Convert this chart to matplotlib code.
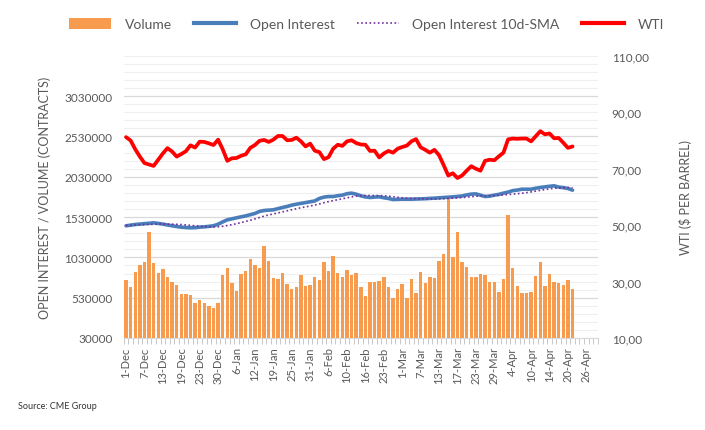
import matplotlib
matplotlib.use("Agg")
import matplotlib.pyplot as plt
from matplotlib.ticker import MultipleLocator, FixedLocator
from matplotlib.patches import Patch
from matplotlib.lines import Line2D

plt.rcParams['font.family'] = ['Lato', 'DejaVu Sans']

# trading days 1-Dec .. 21-Apr (axis runs on to 28-Apr)
tick_labels = ['1-Dec', '7-Dec', '13-Dec', '19-Dec', '23-Dec', '30-Dec', '6-Jan', '12-Jan',
               '19-Jan', '25-Jan', '31-Jan', '6-Feb', '10-Feb', '16-Feb', '23-Feb', '1-Mar',
               '7-Mar', '13-Mar', '17-Mar', '23-Mar', '29-Mar', '4-Apr', '10-Apr', '14-Apr',
               '20-Apr', '26-Apr']
n_slots = 103

volume = [744000, 665000, 843000, 934000, 975000, 1351000, 955000, 831000, 884000, 781000,
          719000, 690000, 578000, 574000, 562000, 463000, 500000, 463000, 421000, 397000,
          463000, 810000, 901000, 707000, 612000, 822000, 860000, 1008000, 934000, 901000,
          1174000, 988000, 769000, 760000, 835000, 694000, 636000, 665000, 814000, 669000,
          682000, 785000, 744000, 975000, 860000, 1046000, 835000, 785000, 872000, 810000,
          835000, 665000, 550000, 727000, 719000, 731000, 781000, 665000, 529000, 636000,
          694000, 529000, 760000, 587000, 847000, 707000, 781000, 769000, 988000, 1066000,
          1752000, 1029000, 1339000, 975000, 913000, 781000, 781000, 822000, 810000, 727000,
          727000, 599000, 756000, 1558000, 897000, 678000, 587000, 587000, 599000, 793000,
          975000, 678000, 822000, 719000, 711000, 690000, 744000, 640000]

open_interest = [1422000, 1430000, 1438000, 1443000, 1449000, 1453000, 1459000, 1452000, 1443000, 1432000,
                 1422000, 1413000, 1405000, 1400000, 1397000, 1399000, 1405000, 1409000, 1415000, 1422000,
                 1442000, 1470000, 1496000, 1508000, 1521000, 1533000, 1545000, 1560000, 1575000, 1600000,
                 1612000, 1616000, 1620000, 1635000, 1649000, 1662000, 1678000, 1690000, 1700000, 1710000,
                 1720000, 1730000, 1761000, 1778000, 1785000, 1785000, 1795000, 1802000, 1820000, 1827000,
                 1814000, 1794000, 1780000, 1773000, 1778000, 1781000, 1770000, 1761000, 1748000, 1750000,
                 1752000, 1752000, 1752000, 1754000, 1756000, 1758000, 1762000, 1765000, 1769000, 1773000,
                 1777000, 1781000, 1786000, 1792000, 1805000, 1815000, 1818000, 1802000, 1785000, 1790000,
                 1802000, 1812000, 1827000, 1840000, 1858000, 1865000, 1876000, 1876000, 1876000, 1888000,
                 1897000, 1905000, 1912000, 1918000, 1902000, 1895000, 1885000, 1864000]

oi_sma = [1425000, 1428000, 1431000, 1434000, 1437000, 1440000, 1442000, 1444000, 1444000, 1442000,
          1442000, 1440000, 1437000, 1432000, 1427000, 1422000, 1416000, 1412000, 1409000, 1408000,
          1410000, 1416000, 1425000, 1436000, 1448000, 1462000, 1476000, 1491000, 1507000, 1525000,
          1542000, 1557000, 1569000, 1582000, 1595000, 1608000, 1621000, 1634000, 1646000, 1657000,
          1668000, 1679000, 1693000, 1708000, 1722000, 1734000, 1746000, 1757000, 1769000, 1781000,
          1790000, 1796000, 1798000, 1798000, 1797000, 1797000, 1794000, 1790000, 1783000, 1775000,
          1769000, 1765000, 1762000, 1760000, 1758000, 1756000, 1755000, 1755000, 1757000, 1759000,
          1762000, 1765000, 1768000, 1772000, 1777000, 1783000, 1788000, 1792000, 1794000, 1796000,
          1798000, 1801000, 1805000, 1810000, 1815000, 1820000, 1826000, 1833000, 1842000, 1852000,
          1862000, 1871000, 1880000, 1888000, 1892000, 1895000, 1896000, 1895000]

wti = [81.2, 80.0, 76.9, 74.3, 72.0, 71.5, 71.0, 73.2, 75.4, 77.3,
       76.1, 74.3, 75.2, 76.2, 78.3, 77.5, 79.6, 79.5, 79.0, 78.4,
       80.3, 76.9, 72.8, 73.7, 73.8, 74.6, 75.1, 77.4, 78.4, 79.9,
       80.2, 79.5, 80.3, 81.6, 81.6, 80.1, 80.2, 81.0, 79.7, 77.9,
       78.9, 76.4, 75.9, 73.4, 74.1, 77.1, 78.5, 78.1, 79.7, 80.1,
       79.1, 78.6, 78.5, 76.3, 76.4, 74.0, 75.4, 76.3, 75.7, 77.1,
       77.7, 78.2, 79.7, 80.5, 77.6, 76.7, 75.7, 76.7, 74.8, 71.3,
       67.6, 68.4, 66.7, 67.6, 69.3, 70.9, 70.0, 69.3, 72.8, 73.2,
       73.0, 74.4, 75.7, 80.4, 80.7, 80.6, 80.7, 80.7, 79.7, 81.5,
       83.3, 82.2, 82.5, 80.8, 80.9, 79.2, 77.4, 77.9]

x = list(range(len(volume)))

fig = plt.figure(figsize=(7.05, 4.31), dpi=100, facecolor='white')
ax = fig.add_axes([0.1755, 0.2135, 0.6725, 0.6545])
ax2 = ax.twinx()

ax.bar(x, volume, width=0.75, color='#F79C4F', zorder=2)
ax.plot(x, open_interest, color='#4A7EBB', linewidth=2.6, zorder=3, solid_capstyle='round')
ax.plot(x, oi_sma, color='#7030A0', linewidth=1.2, linestyle=(0, (1, 1.5)), zorder=4)
ax2.plot(x, wti, color='#FF0000', linewidth=2.7, zorder=5, solid_capstyle='round')

ax.set_xlim(-0.5, n_slots - 0.5)
ax.set_ylim(30000, 3530000)
ax.yaxis.set_major_locator(FixedLocator([30000 + 500000 * i for i in range(7)]))
ax.yaxis.set_minor_locator(FixedLocator([30000 + 100000 * i for i in range(36)]))
ax.grid(True, axis='y', which='minor', color='#EFEFEF', linewidth=0.8, zorder=0)
ax.grid(True, axis='y', which='major', color='#D9D9D9', linewidth=0.9, zorder=0)
ax.set_axisbelow(True)
ax.tick_params(axis='y', which='both', length=0, labelsize=8.5, labelcolor='#595959', pad=8)
ax.set_yticklabels([str(30000 + 500000 * i) for i in range(7)])

ax.set_xticks(list(range(0, n_slots, 4)))
ax.set_xticklabels(tick_labels, rotation=90, fontsize=8, color='#595959')
ax.xaxis.set_minor_locator(MultipleLocator(1, offset=0.5))
ax.tick_params(axis='x', which='major', length=0, pad=6)
ax.tick_params(axis='x', which='minor', length=4, color='#BFBFBF', width=0.6)

ax2.set_ylim(10, 110)
ax2.set_yticks([10, 30, 50, 70, 90, 110])
ax2.set_yticklabels(['10,00', '30,00', '50,00', '70,00', '90,00', '110,00'])
ax2.tick_params(axis='y', length=0, labelsize=8.5, labelcolor='#595959', pad=10)

for a in (ax, ax2):
    for side in ('top', 'left', 'right'):
        a.spines[side].set_visible(False)
    a.spines['bottom'].set_color('#D9D9D9')
ax2.spines['bottom'].set_visible(False)

ax.set_ylabel('OPEN INTEREST / VOLUME (CONTRACTS)', fontsize=9, color='#595959', labelpad=10)
ax2.set_ylabel('WTI ($ PER BARREL)', fontsize=9, color='#595959', labelpad=22)

handles = [Patch(facecolor='#F79C4F', edgecolor='none'),
           Line2D([], [], color='#4A7EBB', linewidth=3),
           Line2D([], [], color='#7030A0', linewidth=1.2, linestyle=(0, (1, 1.5))),
           Line2D([], [], color='#FF0000', linewidth=3)]
fig.legend(handles, ['Volume', 'Open Interest', 'Open Interest 10d-SMA', 'WTI'],
           loc='center', bbox_to_anchor=(0.52, 0.942), ncol=4, frameon=False,
           fontsize=10, labelcolor='#595959', handlelength=3, handleheight=0.9,
           columnspacing=1.6, handletextpad=1.0)

fig.text(0.026, 0.052, 'Source: CME Group', fontsize=6.5, color='#333333')

fig.savefig('out.png', dpi=100, facecolor='white')
